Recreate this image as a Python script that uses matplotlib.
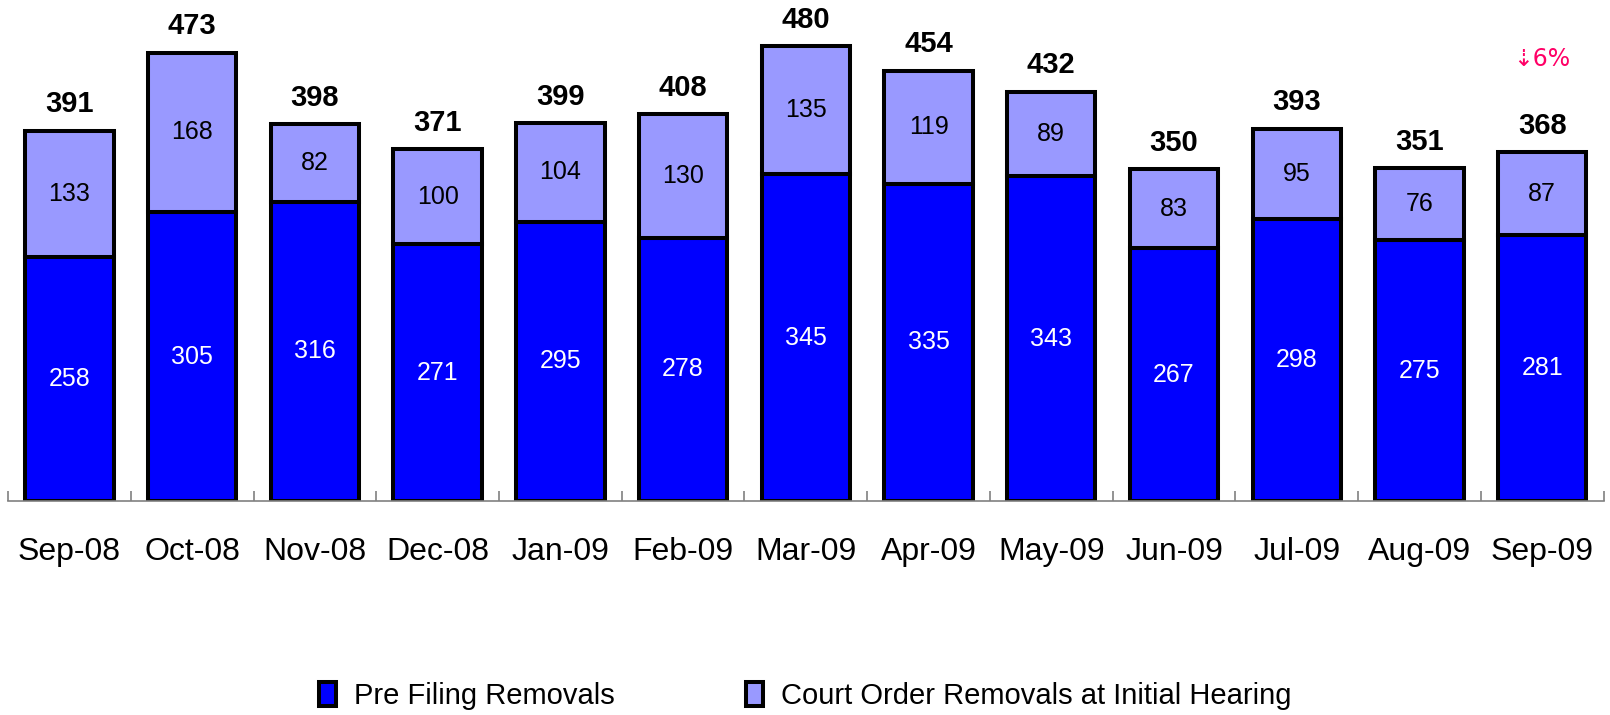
import matplotlib
matplotlib.use("Agg")
import matplotlib.pyplot as plt
import numpy as np

months = ["Sep-08", "Oct-08", "Nov-08", "Dec-08", "Jan-09", "Feb-09", "Mar-09",
          "Apr-09", "May-09", "Jun-09", "Jul-09", "Aug-09", "Sep-09"]
pre_filing = [258, 305, 316, 271, 295, 278, 345, 335, 343, 267, 298, 275, 281]
court_order = [133, 168, 82, 100, 104, 130, 135, 119, 89, 83, 95, 76, 87]
totals = [391, 473, 398, 371, 399, 408, 480, 454, 432, 350, 393, 351, 368]

plt.rcParams['font.family'] = ['Liberation Sans', 'DejaVu Sans']

fig = plt.figure(figsize=(16.1, 7.15), dpi=100)
ax = fig.add_axes([0.005, 0.299, 0.991, 0.663])

x = np.arange(len(months))
w = 0.72
ax.bar(x, pre_filing, w, color='#0000FF', edgecolor='black', linewidth=2.9,
       label='Pre Filing Removals')
ax.bar(x, court_order, w, bottom=pre_filing, color='#9999FF', edgecolor='black',
       linewidth=2.9, label='Court Order Removals at Initial Hearing')

for i in range(len(months)):
    ax.text(x[i], pre_filing[i] / 2, str(pre_filing[i]), ha='center', va='center',
            color='white', fontsize=18)
    ax.text(x[i], pre_filing[i] + court_order[i] / 2, str(court_order[i]),
            ha='center', va='center', color='black', fontsize=18)
    ax.text(x[i], totals[i] + 13, str(totals[i]), ha='center', va='bottom',
            fontsize=21, fontweight='bold', clip_on=False)

ax.text(x[-1], 466, '\u21e36%', ha='center', va='center', color='#FF0066',
        fontsize=17, family=['DejaVu Sans'])

ax.set_xlim(-0.5, len(months) - 0.5)
ax.set_ylim(0, 500)
ax.set_yticks([])
for s in ['left', 'right', 'top']:
    ax.spines[s].set_visible(False)
ax.spines['bottom'].set_color('#808080')
ax.spines['bottom'].set_linewidth(1.2)

ax.set_xticks(x)
ax.set_xticklabels(months, fontsize=23)
ax.tick_params(axis='x', which='major', length=0, pad=26)
ax.set_xticks(np.arange(-0.5, len(months)), minor=True)
ax.tick_params(axis='x', which='minor', direction='in', length=7, width=1.2,
               color='#808080')

leg = fig.legend(loc='center', bbox_to_anchor=(0.5, 0.027), ncol=2, frameon=False,
                 fontsize=21, columnspacing=4.5, handlelength=0.6, handleheight=0.9,
                 handletextpad=0.6)

plt.savefig('out.png', dpi=100)
